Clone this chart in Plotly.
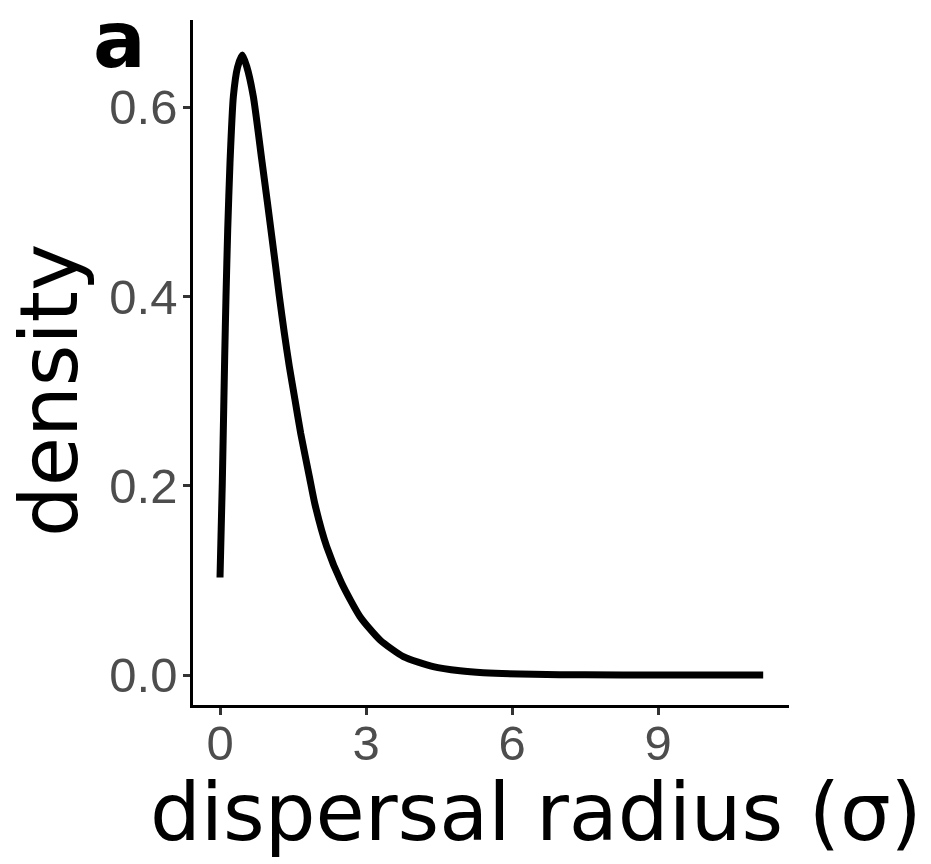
import plotly.graph_objects as go

# Data
radius = [0.0, 0.047, 0.096, 0.123, 0.158, 0.205, 0.274, 0.36, 0.458, 0.548, 0.685,
          0.856, 0.972, 1.144, 1.219, 1.322, 1.425, 1.541, 1.658, 1.836, 1.952, 2.192,
          2.50, 2.877, 3.287, 3.767, 4.38, 4.93, 5.41, 6.44, 7.5, 9.0, 11.16]
density = [0.103, 0.203, 0.336, 0.40, 0.47, 0.541, 0.611, 0.642, 0.655, 0.643, 0.611,
           0.545, 0.500, 0.431, 0.400, 0.361, 0.3257, 0.2905, 0.2553, 0.2095, 0.180, 0.1356,
           0.0969, 0.0616, 0.037, 0.0194, 0.0088, 0.0044, 0.0024, 0.00066, 0.00018, 0.00003, 0.0]
x_ticks = [0, 3, 6, 9]
y_ticks = [0.0, 0.2, 0.4, 0.6]
x_title = "dispersal radius (σ)"
y_title = "density"
tag = "a"

fig = go.Figure()
fig.add_trace(go.Scatter(x=radius, y=density, mode="lines",
                         line=dict(color="black", width=7, shape="spline", smoothing=0.6),
                         hoverinfo="skip", showlegend=False))

tick_font = dict(family="Liberation Sans, Arial, sans-serif", size=49, color="#4d4d4d")
fig.update_layout(
    width=931, height=864,
    margin=dict(l=193, r=142, t=20, b=159),
    paper_bgcolor="white", plot_bgcolor="white",
    xaxis=dict(range=[-0.555, 11.69], tickvals=x_ticks, ticktext=[str(v) for v in x_ticks],
               showgrid=False, zeroline=False, showline=True, linecolor="black", linewidth=2.5,
               ticks="outside", ticklen=7, tickwidth=2.5, tickcolor="#333333",
               tickfont=tick_font, ticklabelstandoff=-14, automargin=False),
    yaxis=dict(range=[-0.0317, 0.692], tickvals=y_ticks, ticktext=[f"{v:.1f}" for v in y_ticks],
               showgrid=False, zeroline=False, showline=True, linecolor="black", linewidth=2.5,
               ticks="outside", ticklen=7, tickwidth=2.5, tickcolor="#333333",
               tickfont=tick_font, ticklabelstandoff=-4, automargin=False),
    annotations=[
        dict(text=x_title, xref="paper", yref="paper", x=(536 - 193) / 596, y=-(812 - 705) / 685,
             xanchor="center", yanchor="middle", showarrow=False,
             font=dict(family="DejaVu Sans", size=80, color="black")),
        dict(text=y_title, xref="paper", yref="paper", x=-(193 - 50) / 596, y=(705 - 391) / 685,
             xanchor="center", yanchor="middle", textangle=-90, showarrow=False,
             font=dict(family="DejaVu Sans", size=80, color="black")),
        dict(text="<b>" + tag + "</b>", xref="paper", yref="paper", x=-(193 - 119) / 596, y=(705 - 40) / 685,
             xanchor="center", yanchor="middle", showarrow=False,
             font=dict(family="DejaVu Sans", size=78, color="black")),
    ],
)

fig.write_html("out.html")
